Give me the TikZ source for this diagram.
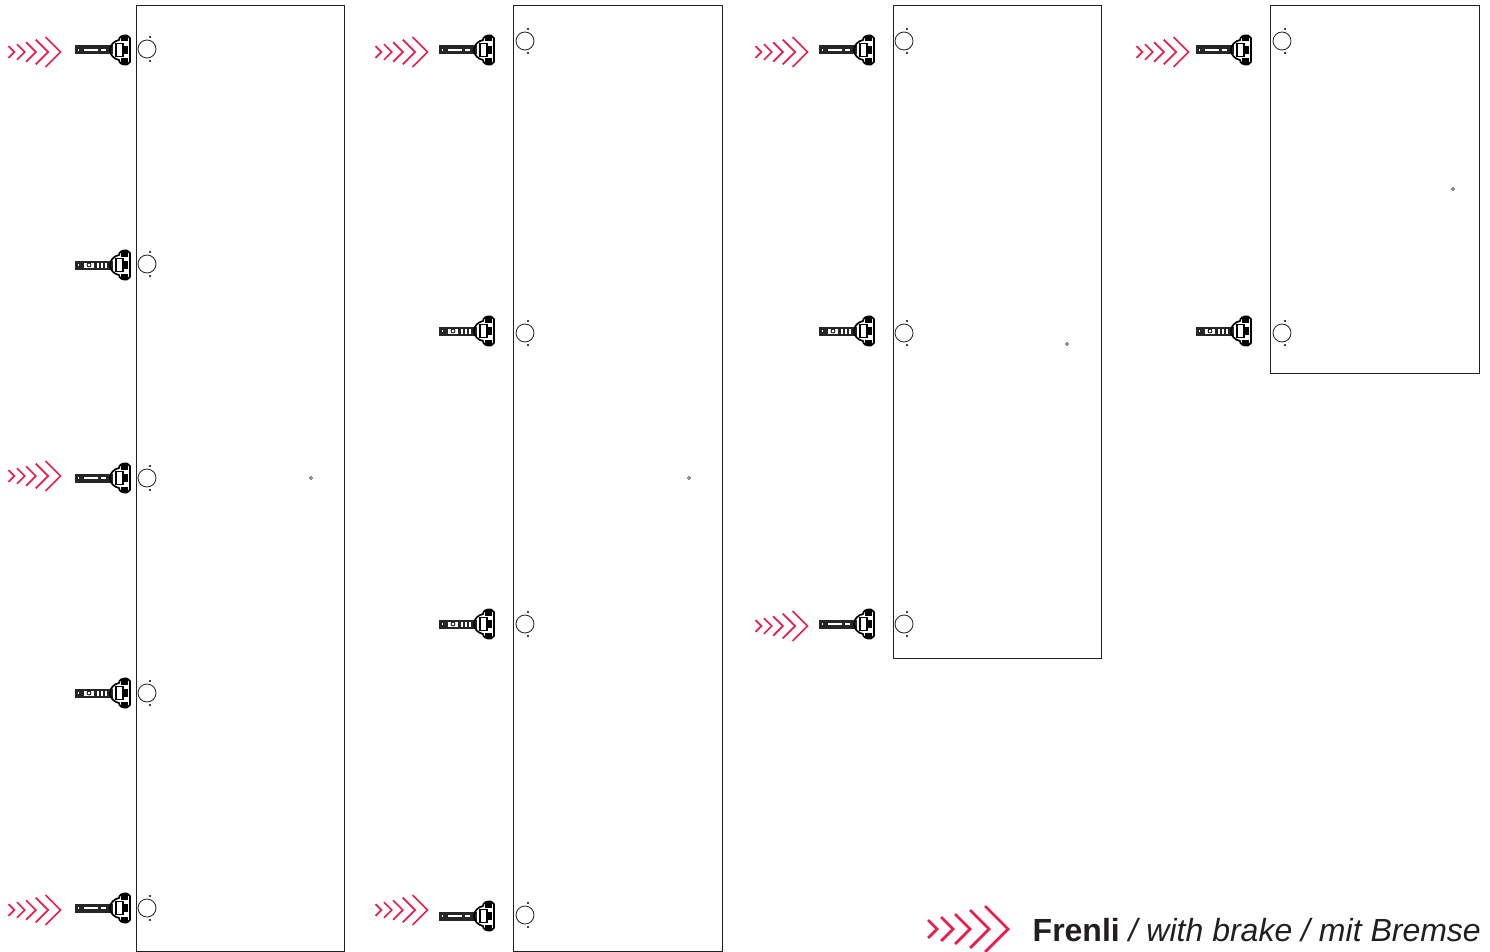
\documentclass[tikz,border=0pt]{standalone}
\usepackage{fontspec}
\setmainfont{Liberation Sans}
\definecolor{brakered}{HTML}{E91E4C}
\definecolor{inkgrey}{HTML}{231F20}
\tikzset{
  panel/.style={draw=inkgrey,line width=0.7pt},
  holering/.style={draw=inkgrey,line width=0.8pt},
  arrowline/.style={draw=brakered,line width=#1,line cap=butt,miter limit=10},
  pics/chevrons/.style={code={
    \foreach \t/\h in {9/9,25/12,42/15,61/19,80/23}
      \draw[arrowline=\pgfkeysvalueof{/tikz/chevwidth}] (\t-\h,-\h) -- (\t,0) -- (\t-\h,\h);
  }},
  chevwidth/.initial=1.7pt,
  pics/hole/.style={code={
    \draw[holering] (0,0) circle (9);
    \fill[black] (3,-12) circle (1.1);
    \fill[black] (3,12) circle (1.1);
  }},
  % cup end of the hinge, shared by both kinds
  pics/hingecup/.style={code={
    \fill[black!85] (-56,-4.5) rectangle (-18,4.5);
    \draw[black,line width=1.7pt,line join=round] (-4,-14.5) .. controls (-9,-15) and (-12,-13) .. (-12,-10)
      .. controls (-17,-9) and (-21,-5) .. (-21,0) .. controls (-21,5) and (-17,9) .. (-12,10)
      .. controls (-12,13) and (-9,15) .. (-4,14.5) -- (-1,12) -- (-1,-12) -- cycle;
    \draw[black,line width=1.1pt] (-15,-6.5) rectangle (-8,6.5);
    \fill[black] (-8,-4) rectangle (-3,4);
    \fill[black] (-10,-14) rectangle (-3,-8.5);
    \fill[black] (-10,8.5) rectangle (-3,14);
    \fill[white] (-13,-4) rectangle (-10,4);
  }},
  pics/hingeslot/.style={code={
    \pic {hingecup};
    \fill[white] (-47,-1.3) rectangle (-33,1.3);
    \fill[white] (-30,-1.3) rectangle (-25,1.3);
    \fill[white] (-53.5,-1) rectangle (-52,1);
  }},
  pics/hingewheel/.style={code={
    \pic {hingecup};
    \fill[white] (-47,-2.5) rectangle (-37,2.5);
    \draw[black,line width=0.8pt] (-42,0) circle (2);
    \fill[white] (-34,-2.5) rectangle (-32.5,2.5);
    \fill[white] (-30,-2.5) rectangle (-28.5,2.5);
    \fill[white] (-26,-2.5) rectangle (-24.5,2.5);
    \fill[white] (-53.5,-1) rectangle (-52,1);
  }},
}
\begin{document}
\begin{tikzpicture}[x=1pt,y=-1pt]
\useasboundingbox (0,0) rectangle (1490,952);
% panels
\draw[panel] (136,5.5) rectangle (344.5,951);
\draw[panel] (513.5,5.5) rectangle (722,951);
\draw[panel] (893,5.5) rectangle (1101.5,658);
\draw[panel] (1270.5,5.5) rectangle (1479,373);
% bores
\foreach \x/\y in {147/49,147/264,147/478,147/693,147/908,
    525/41,525/333,525/624,525/915,
    904/41,904/333,904/624,
    1282/41,1282/333}
  \pic at (\x,\y) {hole};
% hinges
\foreach \x/\y in {131/50,131/478,131/908,495/50,495/916,875/50,875/624,1252/50}
  \pic at (\x,\y) {hingeslot};
\foreach \x/\y in {131/265,131/693,495/331,495/624,875/331,1252/331}
  \pic at (\x,\y) {hingewheel};
% brake marks
\foreach \x/\y in {8.5/52,8.5/476,8.5/910,375.5/52,375.5/910,755.5/52,755.5/626,1136.5/52}
  \pic[scale=0.65] at (\x,\y) {chevrons};
\pic[chevwidth=2.8pt] at (928,929) {chevrons};
% screw points
\foreach \x/\y in {311/478,689/478,1067/344,1453/189}
  \draw[inkgrey,line width=0.5pt] (\x,\y) circle (1.5);
\node[anchor=east,inner sep=0pt,text=inkgrey,font=\fontsize{32}{36}\selectfont] (legendtext) at (1481,930)
  {\textbf{Frenli} \textit{/ with brake / mit Bremse}};
\end{tikzpicture}
\end{document}
